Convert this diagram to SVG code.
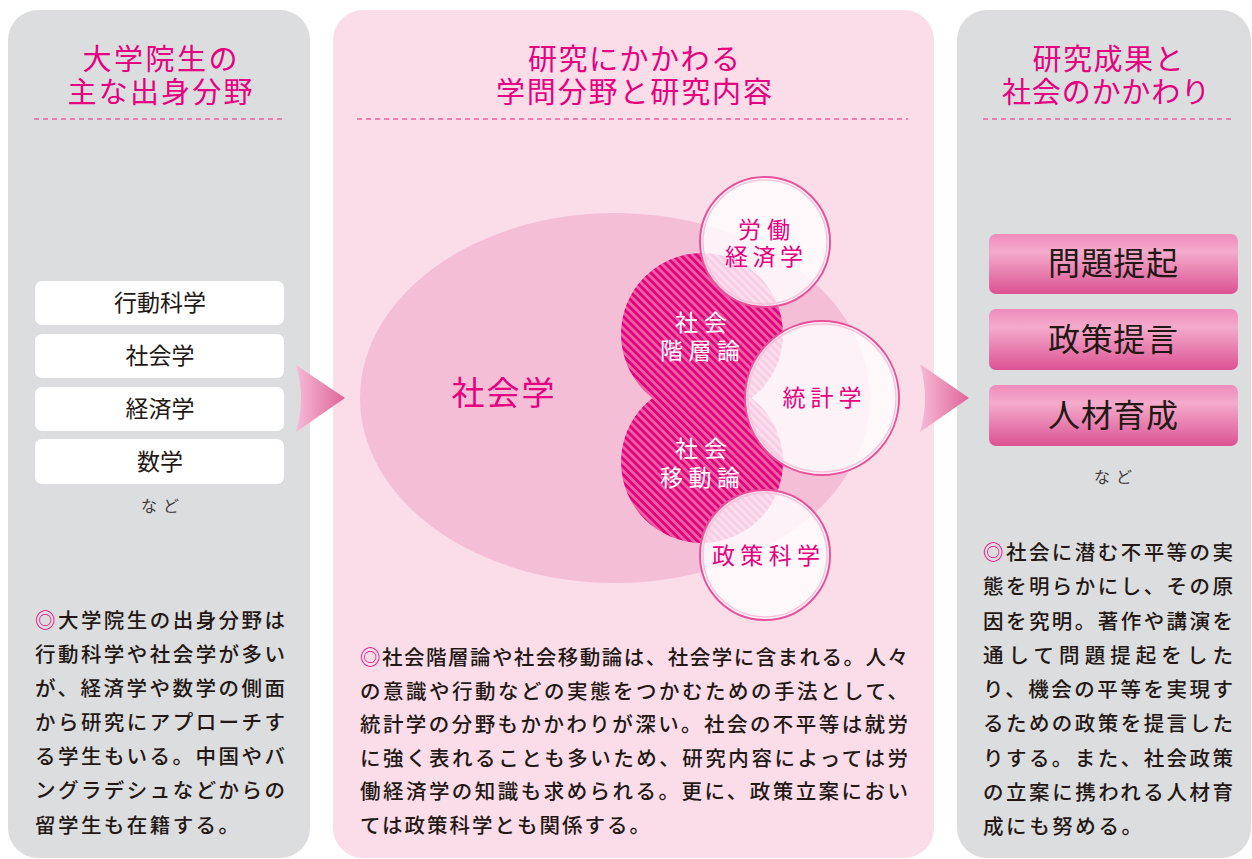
<svg xmlns="http://www.w3.org/2000/svg" width="1252" height="859" viewBox="0 0 1252 859">
<style>
.ttl{font-family:"Noto Sans CJK JP","Noto Sans",sans-serif;font-size:29px;fill:#e5007f;text-anchor:middle}
.dash{stroke:#e9609f;stroke-width:1.3;stroke-dasharray:5 4;fill:none}
.lbox{fill:#ffffff}
.ltxt{font-family:"Noto Sans CJK JP","Noto Sans",sans-serif;font-size:23px;fill:#231815;text-anchor:middle}
.rtxt{font-family:"Noto Sans CJK JP","Noto Sans",sans-serif;font-size:32px;fill:#231815;text-anchor:middle}
.nado{font-family:"Noto Sans CJK JP","Noto Sans",sans-serif;font-size:16px;fill:#3e3a39;text-anchor:middle;letter-spacing:6px}
.body{font-family:"Noto Sans CJK JP","Noto Sans",sans-serif;font-size:20.5px;fill:#231815;font-weight:500}
.mk{fill:#e5007f}
.wc{fill:#ffffff;fill-opacity:0.8;stroke:#e8519a;stroke-width:2}
.wci{fill:none;stroke:#f7c3da;stroke-width:1.5}
.ctp{font-family:"Noto Sans CJK JP","Noto Sans",sans-serif;font-size:23px;fill:#e5007f;text-anchor:middle}
.ctw{font-family:"Noto Sans CJK JP","Noto Sans",sans-serif;font-size:23px;fill:#ffffff;text-anchor:middle}
</style>
<defs>
<pattern id="hatch" patternUnits="userSpaceOnUse" width="5.6" height="5.6" patternTransform="rotate(45)">
<rect width="5.6" height="5.6" fill="#ee5fa3"/>
<rect width="5.6" height="2.8" fill="#e0037d"/>
</pattern>
<linearGradient id="arr" x1="0" y1="0" x2="1" y2="0">
<stop offset="0" stop-color="#f6bbd5"/>
<stop offset="1" stop-color="#de6499"/>
</linearGradient>
<linearGradient id="rb" x1="0" y1="0" x2="0" y2="1">
<stop offset="0" stop-color="#ee8bbb"/>
<stop offset="0.3" stop-color="#f4abcb"/>
<stop offset="1" stop-color="#db5293"/>
</linearGradient>
</defs>

<g id="panel-left">
<rect x="8" y="10" width="302" height="848" rx="30" fill="#dcdddf"/>
<text class="ttl" x="160" y="70" textLength="155" lengthAdjust="spacing">大学院生の</text>
<text class="ttl" x="160" y="103" textLength="185" lengthAdjust="spacing">主な出身分野</text>
<line class="dash" x1="34" y1="119" x2="285" y2="119"/>
</g>
<g id="box-koudou"><rect class="lbox" x="35" y="281" width="249" height="44" rx="7"/><text class="ltxt" x="160" y="311">行動科学</text></g>
<g id="box-shakai"><rect class="lbox" x="35" y="334" width="249" height="44" rx="7"/><text class="ltxt" x="160" y="364">社会学</text></g>
<g id="box-keizai"><rect class="lbox" x="35" y="387" width="249" height="44" rx="7"/><text class="ltxt" x="160" y="417">経済学</text></g>
<g id="box-suugaku"><rect class="lbox" x="35" y="439" width="249" height="45" rx="7"/><text class="ltxt" x="160" y="470">数学</text></g>
<g id="left-nado"><text class="nado" x="163" y="512">など</text></g>
<g id="left-body">
<text class="body" x="35" y="628" textLength="250" lengthAdjust="spacing"><tspan class="mk">◎</tspan>大学院生の出身分野は</text>
<text class="body" x="35" y="662" textLength="250" lengthAdjust="spacing">行動科学や社会学が多い</text>
<text class="body" x="35" y="696" textLength="250" lengthAdjust="spacing">が、経済学や数学の側面</text>
<text class="body" x="35" y="730" textLength="250" lengthAdjust="spacing">から研究にアプローチす</text>
<text class="body" x="35" y="764" textLength="250" lengthAdjust="spacing">る学生もいる。中国やバ</text>
<text class="body" x="35" y="798" textLength="250" lengthAdjust="spacing">ングラデシュなどからの</text>
<text class="body" x="35" y="833" textLength="204" lengthAdjust="spacing">留学生も在籍する。</text>
</g>

<g id="panel-middle">
<rect x="333" y="10" width="601" height="848" rx="30" fill="#fadde9"/>
<text class="ttl" x="634" y="70" textLength="212" lengthAdjust="spacing">研究にかかわる</text>
<text class="ttl" x="634" y="103" textLength="276" lengthAdjust="spacing">学問分野と研究内容</text>
<line class="dash" x1="357" y1="119" x2="908" y2="119"/>
</g>
<g id="ellipse-shakaigaku">
<ellipse cx="615" cy="398" rx="255" ry="185" fill="#f5bed7"/>
<text x="503" y="405" font-family="Noto Sans CJK JP, Noto Sans, sans-serif" font-size="33" fill="#e5007f" text-anchor="middle" textLength="103" lengthAdjust="spacing">社会学</text>
</g>
<g id="node-kaisou">
<circle cx="702" cy="334" r="81" fill="url(#hatch)"/>
</g>
<g id="node-idou">
<circle cx="702" cy="462" r="81" fill="url(#hatch)"/>
</g>
<g id="node-roudou">
<circle class="wc" cx="765" cy="242" r="65"/>
<circle class="wci" cx="765" cy="242" r="62"/>
<text class="ctp" x="764" y="238" textLength="52" lengthAdjust="spacing">労働</text>
<text class="ctp" x="764" y="265" textLength="78" lengthAdjust="spacing">経済学</text>
</g>
<g id="node-toukei">
<circle class="wc" cx="822" cy="398" r="77"/>
<circle class="wci" cx="822" cy="398" r="74"/>
<text class="ctp" x="822" y="406" textLength="79" lengthAdjust="spacing">統計学</text>
</g>
<g id="node-seisaku">
<circle class="wc" cx="765" cy="555" r="65"/>
<circle class="wci" cx="765" cy="555" r="62"/>
<text class="ctp" x="766" y="564" textLength="108" lengthAdjust="spacing">政策科学</text>
</g>
<g id="labels-hatch">
<text class="ctw" x="701" y="331" textLength="52" lengthAdjust="spacing">社会</text>
<text class="ctw" x="700" y="359" textLength="80" lengthAdjust="spacing">階層論</text>
<text class="ctw" x="701" y="457" textLength="52" lengthAdjust="spacing">社会</text>
<text class="ctw" x="700" y="486" textLength="80" lengthAdjust="spacing">移動論</text>
</g>
<g id="middle-body">
<text class="body" x="360" y="665" textLength="548" lengthAdjust="spacing"><tspan class="mk">◎</tspan>社会階層論や社会移動論は、社会学に含まれる。人々</text>
<text class="body" x="360" y="699" textLength="548" lengthAdjust="spacing">の意識や行動などの実態をつかむための手法として、</text>
<text class="body" x="360" y="732" textLength="548" lengthAdjust="spacing">統計学の分野もかかわりが深い。社会の不平等は就労</text>
<text class="body" x="360" y="766" textLength="548" lengthAdjust="spacing">に強く表れることも多いため、研究内容によっては労</text>
<text class="body" x="360" y="799" textLength="548" lengthAdjust="spacing">働経済学の知識も求められる。更に、政策立案におい</text>
<text class="body" x="360" y="833" textLength="290" lengthAdjust="spacing">ては政策科学とも関係する。</text>
</g>

<g id="panel-right">
<rect x="957" y="10" width="294" height="848" rx="30" fill="#dcdddf"/>
<text class="ttl" x="1108" y="70" textLength="151" lengthAdjust="spacing">研究成果と</text>
<text class="ttl" x="1106" y="103" textLength="208" lengthAdjust="spacing">社会のかかわり</text>
<line class="dash" x1="983" y1="119" x2="1234" y2="119"/>
</g>
<g id="box-mondai"><rect x="989" y="234" width="249" height="60" rx="7" fill="url(#rb)"/><text class="rtxt" x="1113" y="275" textLength="130" lengthAdjust="spacing">問題提起</text></g>
<g id="box-seisaku"><rect x="989" y="309" width="249" height="61" rx="7" fill="url(#rb)"/><text class="rtxt" x="1113" y="351" textLength="130" lengthAdjust="spacing">政策提言</text></g>
<g id="box-jinzai"><rect x="989" y="385" width="249" height="61" rx="7" fill="url(#rb)"/><text class="rtxt" x="1113" y="427" textLength="130" lengthAdjust="spacing">人材育成</text></g>
<g id="right-nado"><text class="nado" x="1116" y="483">など</text></g>
<g id="right-body">
<text class="body" x="983" y="560" textLength="250" lengthAdjust="spacing"><tspan class="mk">◎</tspan>社会に潜む不平等の実</text>
<text class="body" x="983" y="594" textLength="250" lengthAdjust="spacing">態を明らかにし、その原</text>
<text class="body" x="983" y="629" textLength="250" lengthAdjust="spacing">因を究明。著作や講演を</text>
<text class="body" x="983" y="663" textLength="250" lengthAdjust="spacing">通して問題提起をした</text>
<text class="body" x="983" y="697" textLength="250" lengthAdjust="spacing">り、機会の平等を実現す</text>
<text class="body" x="983" y="731" textLength="250" lengthAdjust="spacing">るための政策を提言した</text>
<text class="body" x="983" y="766" textLength="250" lengthAdjust="spacing">りする。また、社会政策</text>
<text class="body" x="983" y="800" textLength="250" lengthAdjust="spacing">の立案に携われる人材育</text>
<text class="body" x="983" y="834" textLength="159" lengthAdjust="spacing">成にも努める。</text>
</g>

<g id="connectors">
<path d="M296 365 L345 398 L296 432 Q306 398 296 365 Z" fill="url(#arr)"/>
<path d="M920 364 L969 398 L920 432 Q930 398 920 364 Z" fill="url(#arr)"/>
</g>
</svg>
